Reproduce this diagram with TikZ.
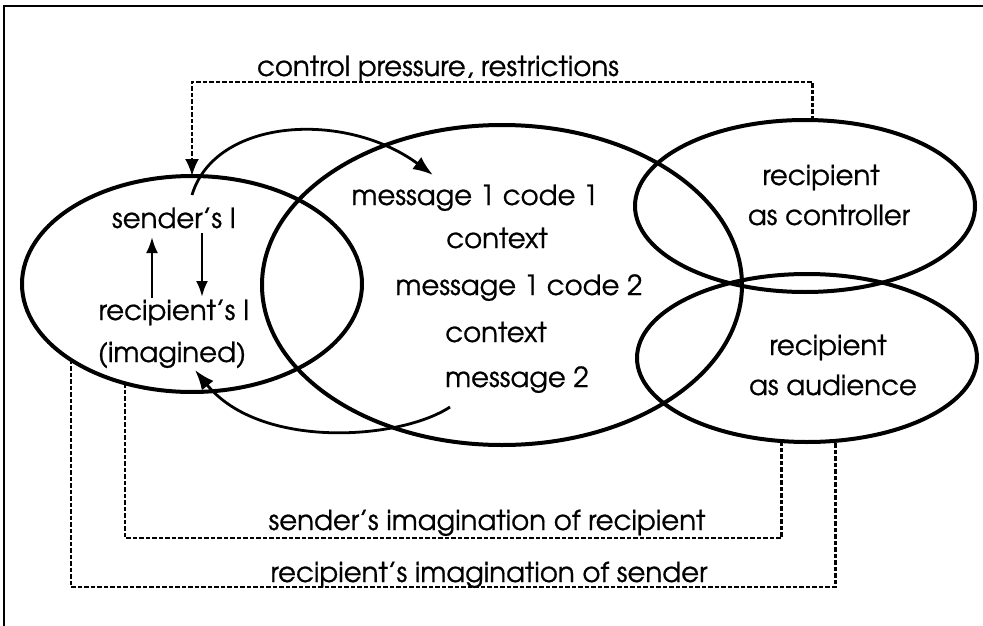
\documentclass[tikz,border=0pt]{standalone}
\usepackage{fontspec}
\setmainfont{texgyreadventor-regular.otf}[FakeBold=0.8]
\usetikzlibrary{shapes.geometric,arrows.meta}
\begin{document}
\begin{tikzpicture}[x=1pt,y=-1pt,
  blob/.style={draw,ellipse,line width=4pt,inner sep=0pt,outer sep=0pt},
  lbl/.style={anchor=base,inner sep=0pt,font=\fontsize{27.6}{30}\selectfont},
  flow/.style={line width=2.8pt,-{Latex[length=20pt,width=15pt]}},
  link/.style={line width=2.5pt,dash pattern=on 4.5pt off 2pt},
  frame/.style={line width=2pt}]
\useasboundingbox (0,0) rectangle (983,626);
% frame edges
\draw[frame] (4,626) -- (4,6) -- (983,6);
% the four regions
\node[blob,minimum width=340pt,minimum height=216pt] (snd)  at (192,284) {};
\node[blob,minimum width=480pt,minimum height=320pt] (msg)  at (502,285) {};
\node[blob,minimum width=340pt,minimum height=172pt] (ctrl) at (805,206) {};
\node[blob,minimum width=340pt,minimum height=168pt] (aud)  at (807,358) {};
% labels
\node[lbl] (sI)   at (174,228) {sender's I};
\node[lbl] (rI)   at (174,320) {recipient's I};
\node[lbl] (im)   at (172,362) {(imagined)};
\node[lbl] (m1)   at (475,205) {message 1 code 1};
\node[lbl] (cx1)  at (497,248) {context};
\node[lbl] (m2)   at (519,295) {message 1 code 2};
\node[lbl] (cx2)  at (496,342) {context};
\node[lbl] (m3)   at (517,387) {message 2};
\node[lbl] (rc1)  at (821,185) {recipient};
\node[lbl] (rc2)  at (829,225) {as controller};
\node[lbl] (ra1)  at (828,355) {recipient};
\node[lbl] (ra2)  at (833,395) {as audience};
\node[lbl] (cp)   at (438,76)  {control pressure, restrictions};
\node[lbl] (si)   at (487,530) {sender's imagination of recipient};
\node[lbl] (ri)   at (489,582) {recipient's imagination of sender};
% route levels of the dashed links
\coordinate (topline) at (0,82);
\coordinate (midline) at (0,538);
\coordinate (lowline) at (0,587);
% dashed links
\draw[link,-{Latex[length=17pt,width=14pt]}] (ctrl.85) -- (ctrl.85 |- topline) -- (snd.north |- topline) -- (snd.north);
\draw[link] (snd.236) -- (snd.236 |- midline) -| (aud.253);
\draw[link] (snd.212) -- (snd.212 |- lowline) -| (aud.289);
% sending and feedback arcs
\coordinate (out1) at (192,195);
\coordinate (in1)  at (433,175);
\coordinate (out2) at (450,407);
\coordinate (in2)  at (195,370);
\draw[flow] (out1) .. controls (215,118) and (345,110) .. (in1);
\draw[flow] (out2) .. controls (400,440) and (260,450) .. (in2);
% inner exchange between the two selves
\coordinate (upA) at (152,298);
\coordinate (upB) at (152,237);
\coordinate (dnA) at (202,233);
\coordinate (dnB) at (202,297);
\draw[line width=2.6pt,-{Latex[length=16pt,width=12pt]}] (upA) -- (upB);
\draw[line width=2.6pt,-{Latex[length=16pt,width=12pt]}] (dnA) -- (dnB);
\end{tikzpicture}
\end{document}
